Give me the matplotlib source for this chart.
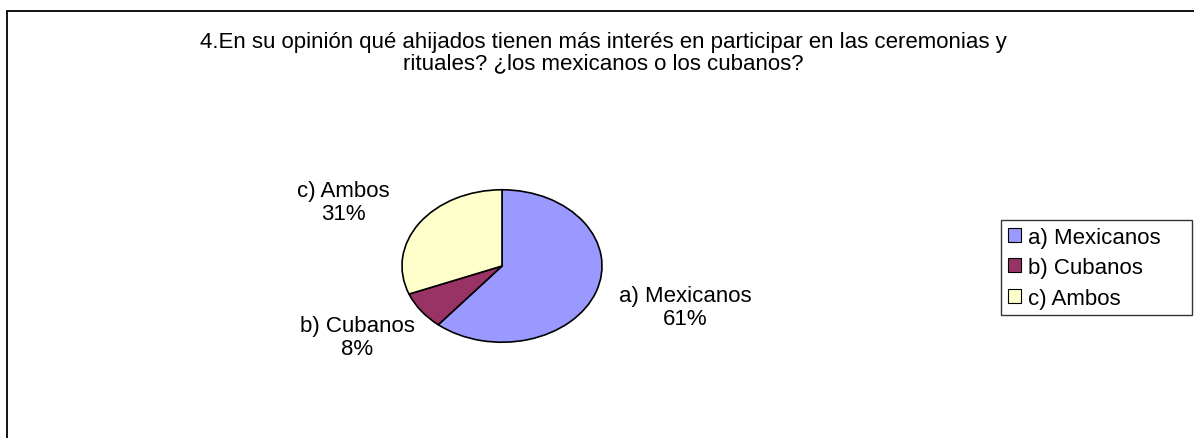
import matplotlib
matplotlib.use("Agg")
import matplotlib.pyplot as plt
from matplotlib.patches import Rectangle, Patch

plt.rcParams['font.family'] = ['Liberation Sans', 'DejaVu Sans']

# data
categorias = ['a) Mexicanos', 'b) Cubanos', 'c) Ambos']
porcentajes = [61, 8, 31]
colores = ['#9999FF', '#993366', '#FFFFCC']
titulo = ('4.En su opinión qué ahijados tienen más interés en participar en las ceremonias y\n'
          'rituales? ¿los mexicanos o los cubanos?')

W, H = 1194, 439
fig = plt.figure(figsize=(W / 100, H / 100), dpi=100)

def px(x, y):
    # pixel coords (top-left origin) -> figure fraction
    return x / W, 1 - y / H

# outer chart frame (runs off right and bottom edge)
x0, y0 = px(7, 11.5)
fig.patches.append(Rectangle((x0, -0.2), 1.5, y0 + 0.2, transform=fig.transFigure,
                             fill=False, edgecolor='black', linewidth=1.3))

fs = 16
fig.text(*px(603, 53), titulo, ha='center', va='center', fontsize=fs, linespacing=1.0)

# pie (stretched to an ellipse like the original)
l, t = px(401, 190)
r, b = px(603, 344)
ax = fig.add_axes([l, b, r - l, t - b])
wedges, _ = ax.pie(porcentajes, colors=colores, startangle=90, counterclock=False,
                   wedgeprops=dict(edgecolor='black', linewidth=1.2))
ax.set_aspect('auto')
ax.set_xlim(-1.01, 1.01)
ax.set_ylim(-1.01, 1.01)
ax.axis('off')

# data labels
pos_etiquetas = [(685, 308), (357, 338), (343, 203)]
for cat, p, (x, y) in zip(categorias, porcentajes, pos_etiquetas):
    fig.text(*px(x, y), f'{cat}\n{p}%', ha='center', va='center', fontsize=fs,
             linespacing=1.08)

# legend
handles = [Patch(facecolor=c, edgecolor='black', linewidth=0.8) for c in colores]
lx, ly = px(1001, 221)
lx2, ly2 = px(1192, 316)
leg = fig.legend(handles, categorias, loc='upper left',
                 bbox_to_anchor=(lx, ly2, lx2 - lx, ly - ly2), mode='expand',
                 fontsize=fs, frameon=True, fancybox=False, borderpad=0.3,
                 handlelength=0.6, handleheight=0.6, handletextpad=0.3,
                 labelspacing=0.43, borderaxespad=0)
leg.get_frame().set_edgecolor('black')
leg.get_frame().set_linewidth(1.0)

fig.savefig('out.png', dpi=100)
